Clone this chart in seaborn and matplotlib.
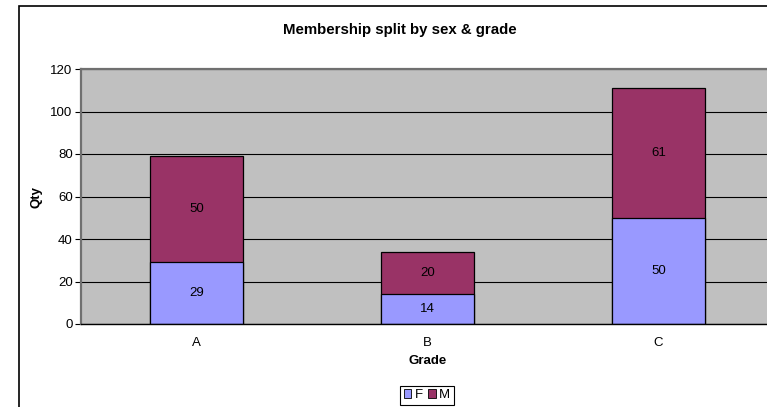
import numpy as np
import pandas as pd
import matplotlib
matplotlib.use('Agg')
import matplotlib.pyplot as plt
from matplotlib.patches import Rectangle, Patch
import seaborn as sns

# Data
grades = ['A', 'B', 'C']
female = [29, 14, 50]
male = [50, 20, 61]

F_COLOR = '#9999FF'
M_COLOR = '#993366'
PLOT_BG = '#C0C0C0'

W, H = 767, 407
FS = 9.5

sns.set_style('white')
plt.rcParams['font.family'] = ['Liberation Sans', 'DejaVu Sans']
plt.rcParams['text.color'] = 'black'
plt.rcParams['axes.labelcolor'] = 'black'
plt.rcParams['xtick.color'] = 'black'
plt.rcParams['ytick.color'] = 'black'

df = pd.DataFrame({'grade': grades, 'F': female, 'M': male})
df['total'] = df['F'] + df['M']

fig = plt.figure(figsize=(W / 100, H / 100), dpi=100)
fig.patch.set_facecolor('white')

# chart area border (cropped on right and bottom)
fig.patches.append(Rectangle((19 / W, -0.1), 1.2, (1 - 6 / H) + 0.1,
                             transform=fig.transFigure, fill=False,
                             edgecolor='black', linewidth=1.2))

ax = fig.add_axes([81 / W, 1 - 324 / H, 693 / W, 255 / H])
ax.set_facecolor(PLOT_BG)

sns.barplot(data=df, x='grade', y='total', color=M_COLOR, width=0.4,
            edgecolor='black', linewidth=0.9, saturation=1, ax=ax)
sns.barplot(data=df, x='grade', y='F', color=F_COLOR, width=0.4,
            edgecolor='black', linewidth=0.9, saturation=1, ax=ax)

for i, (f, m) in enumerate(zip(female, male)):
    ax.text(i, f / 2, str(f), ha='center', va='center', fontsize=FS)
    ax.text(i, f + m / 2, str(m), ha='center', va='center', fontsize=FS)

ax.set_ylim(0, 120)
ax.set_xlim(-0.5, 2.5)
ax.set_yticks(np.arange(0, 121, 20))
ax.yaxis.grid(True, color='black', linewidth=0.8)
ax.set_axisbelow(True)

ax.set_xticks([0, 1, 2])
ax.set_xticklabels(grades)
ax.set_xticks([-0.5, 0.5, 1.5, 2.5], minor=True)
ax.tick_params(axis='x', which='major', length=0, pad=9, labelsize=FS)
ax.tick_params(axis='x', which='minor', length=4, color='black', width=0.8, direction='out')
ax.tick_params(axis='y', length=4, color='black', width=0.8, direction='out',
               labelsize=FS, pad=2, left=True)

for side in ['left', 'top']:
    ax.spines[side].set_color('#707070')
    ax.spines[side].set_linewidth(1.6)
ax.spines['right'].set_visible(False)
ax.spines['bottom'].set_color('black')
ax.spines['bottom'].set_linewidth(1.0)

ax.set_xlabel('Grade', fontsize=FS, fontweight='bold', labelpad=5)
ax.set_ylabel('Qty', fontsize=FS, fontweight='bold', labelpad=6)

fig.text(400 / W, 1 - 30 / H, 'Membership split by sex & grade',
         ha='center', va='center', fontsize=10.8, fontweight='bold')

handles = [Patch(facecolor=F_COLOR, edgecolor='black', linewidth=0.6),
           Patch(facecolor=M_COLOR, edgecolor='black', linewidth=0.6)]
leg = fig.legend(handles, ['F', 'M'], loc='upper center',
                 bbox_to_anchor=(427 / W, 1 - 386 / H), ncol=2,
                 fontsize=FS, frameon=True, fancybox=False, framealpha=1,
                 edgecolor='black', handlelength=0.6, handleheight=0.6,
                 handletextpad=0.25, columnspacing=0.4, borderpad=0.25,
                 borderaxespad=0)
leg.get_frame().set_linewidth(0.8)

fig.savefig('out.png', dpi=100)
